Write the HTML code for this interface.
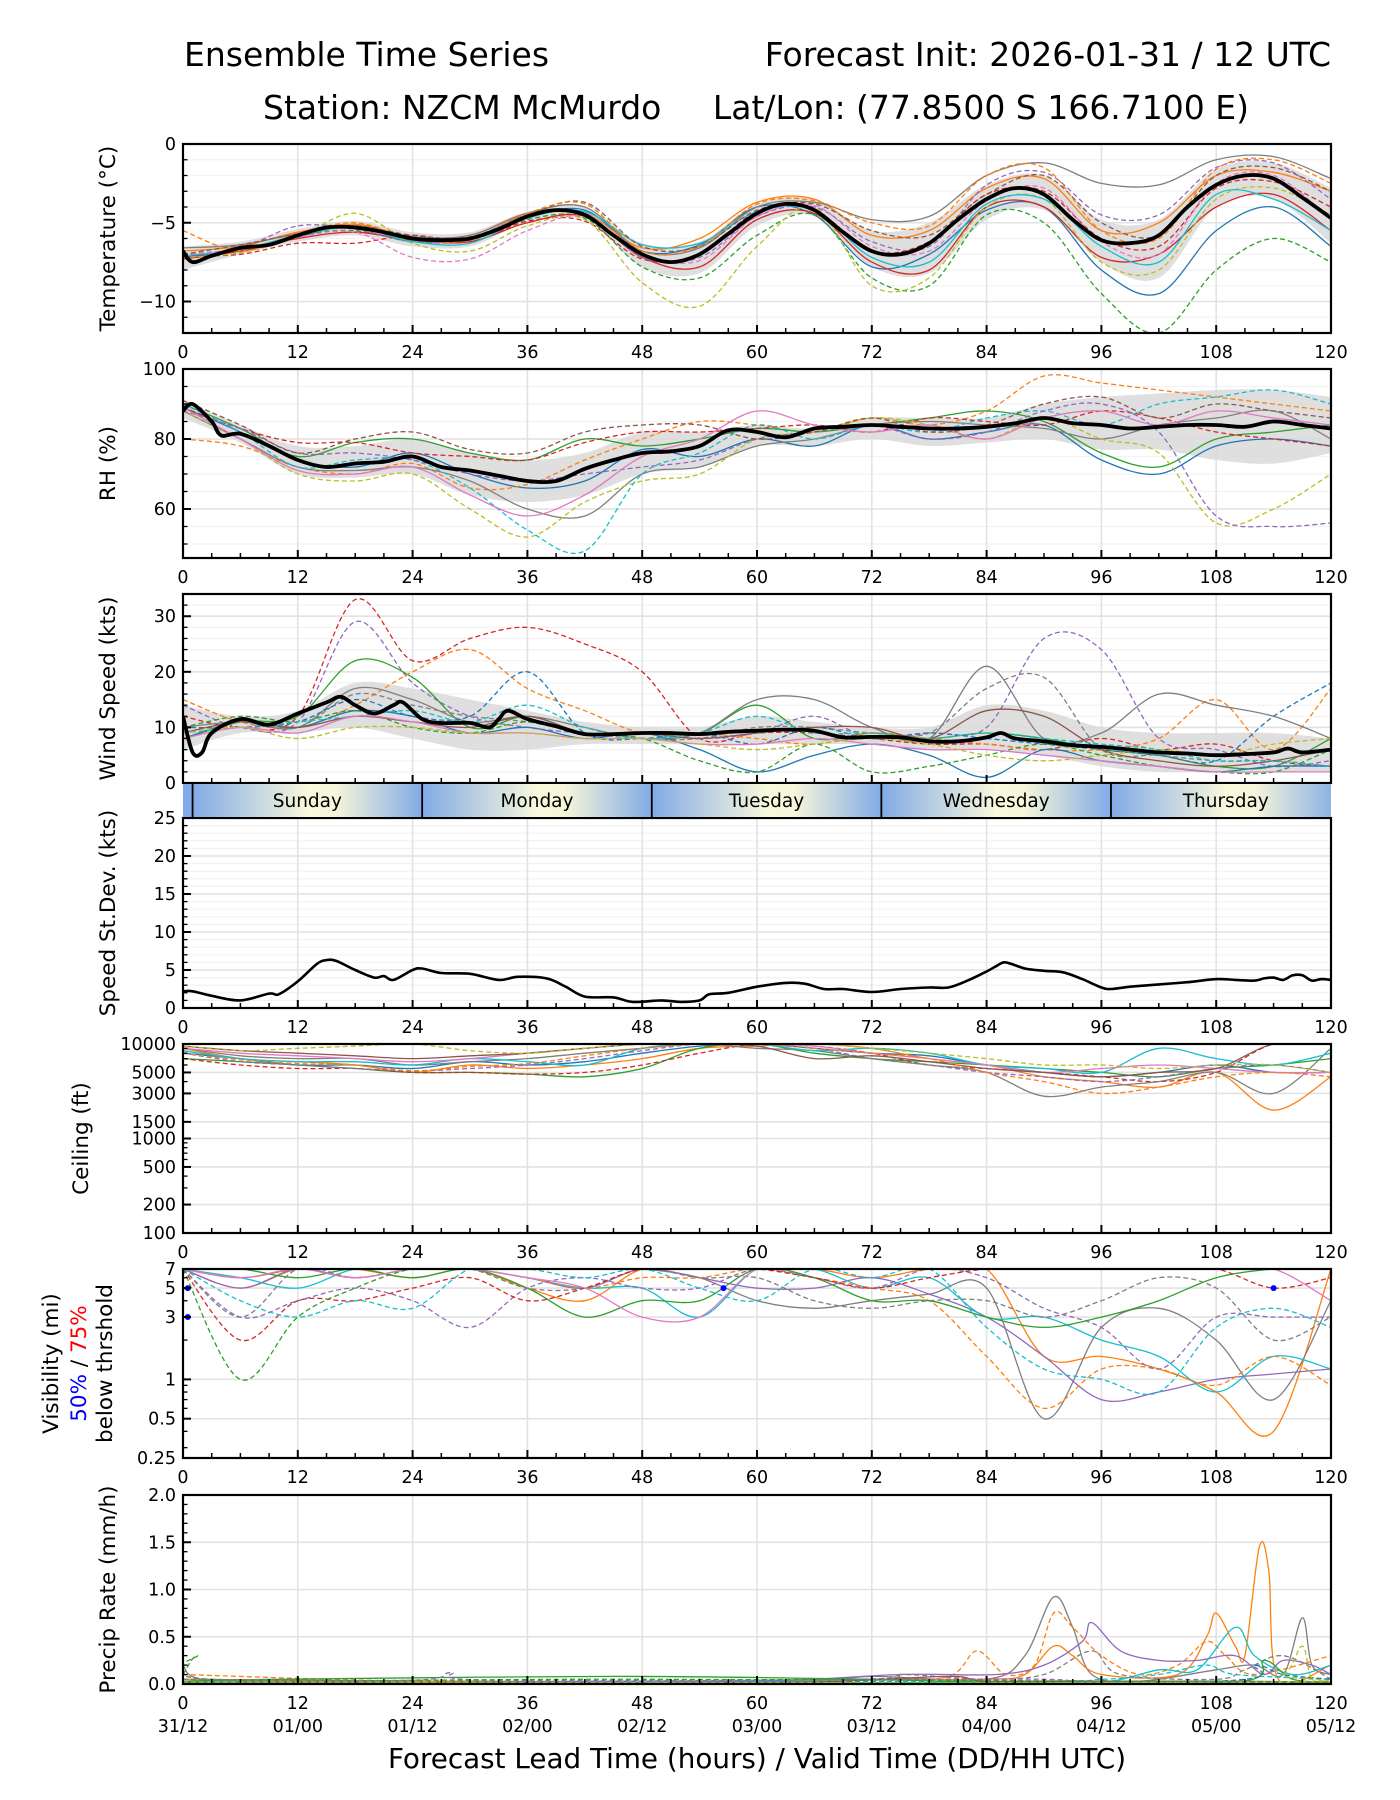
<!DOCTYPE html>
<html><head><meta charset="utf-8"><style>
html,body{margin:0;padding:0;background:#fff;}
svg{display:block;font-family:"DejaVu Sans","Liberation Sans",sans-serif;}
</style></head><body>
<svg id="chart" width="1400" height="1800" viewBox="0 0 1400 1800" xmlns="http://www.w3.org/2000/svg">
<defs>
<linearGradient id="dayGrad" x1="0" x2="1" y1="0" y2="0">
<stop offset="0" stop-color="#82aae6"/><stop offset="0.5" stop-color="#f8f8dc"/><stop offset="0.62" stop-color="#f6f6da"/><stop offset="1" stop-color="#82aae6"/>
</linearGradient>
</defs>
<text x="184" y="66" font-size="33">Ensemble Time Series</text>
<text x="1331" y="66" font-size="33" text-anchor="end">Forecast Init: 2026-01-31 / 12 UTC</text>
<text x="263" y="119" font-size="33">Station: NZCM McMurdo</text>
<text x="1249" y="119" font-size="33" text-anchor="end">Lat/Lon: (77.8500 S 166.7100 E)</text>
<text x="757" y="1768" font-size="27.8" text-anchor="middle">Forecast Lead Time (hours) / Valid Time (DD/HH UTC)</text>
</svg>
<script>
// ---------- shared data ----------
const H6 = [0,6,12,18,24,30,36,42,48,54,60,66,72,78,84,90,96,102,108,114,120];
const X_TICKS = [0,12,24,36,48,60,72,84,96,108,120];
const DATE_LABELS = ["31/12","01/00","01/12","02/00","02/12","03/00","03/12","04/00","04/12","05/00","05/12"];
const DAY_NAMES = ["Sunday","Monday","Tuesday","Wednesday","Thursday"];
const DAY_STARTS = [1,25,49,73,97];

// Temperature
const T_MEAN_H = [0,1,3,6,9,12,15,18,21,24,27,30,33,36,39,42,45,48,51,54,57,60,63,66,69,72,75,78,81,84,87,90,93,96,99,102,105,108,111,114,117,120];
const T_MEAN = [-6.8,-7.5,-7.1,-6.6,-6.4,-5.8,-5.3,-5.3,-5.6,-6.0,-6.1,-6.0,-5.4,-4.6,-4.2,-4.5,-5.8,-7.0,-7.5,-7.0,-5.7,-4.4,-3.8,-4.2,-5.6,-6.8,-7.0,-6.3,-4.8,-3.5,-2.8,-3.2,-4.8,-6.1,-6.3,-5.8,-4.0,-2.6,-2.0,-2.2,-3.4,-4.7];
const T_LOW = [-8.0,-7.0,-6.2,-5.8,-6.5,-6.5,-5.0,-4.8,-7.8,-8.2,-5.2,-4.6,-7.8,-8.2,-4.8,-4.2,-7.5,-8.5,-4.0,-3.5,-6.3];
const T_HIGH = [-6.5,-6.2,-5.4,-4.9,-5.6,-5.6,-4.3,-4.0,-6.3,-6.2,-3.8,-3.5,-5.5,-5.0,-2.6,-2.0,-4.8,-4.8,-1.6,-1.2,-2.8];
const T_M1 = [-7.2,-6.7,-5.9,-5.2,-6.1,-6.0,-4.7,-4.2,-6.8,-6.4,-4.0,-4.5,-7.8,-7.0,-4.2,-4.0,-8.0,-9.5,-5.5,-4.0,-6.5];
const T_M2 = [-6.8,-6.5,-5.6,-5.1,-5.9,-5.8,-4.4,-4.4,-6.6,-6.0,-3.7,-3.5,-5.8,-5.5,-2.8,-2.2,-5.5,-5.0,-2.0,-1.8,-3.0];
const T_M3 = [-7.0,-6.8,-5.8,-5.5,-6.2,-6.1,-4.8,-4.7,-7.8,-8.5,-5.8,-4.5,-8.5,-9.0,-4.5,-5.0,-9.5,-12.0,-8.0,-6.0,-7.5];
const T_M4 = [-7.3,-6.8,-6.0,-5.6,-6.1,-6.2,-5.0,-4.6,-7.2,-7.8,-4.8,-4.4,-7.5,-8.0,-4.0,-4.0,-7.2,-7.0,-4.0,-3.2,-5.5];
const T_M5 = [-7.1,-7.0,-6.3,-6.3,-5.8,-6.2,-4.9,-4.9,-7.3,-7.0,-4.3,-4.2,-6.8,-6.2,-3.2,-3.0,-6.0,-6.5,-2.8,-2.4,-4.0];
const T_M6 = [-6.6,-6.4,-5.7,-5.2,-5.9,-5.8,-4.4,-4.0,-6.8,-6.6,-4.0,-3.7,-4.8,-4.6,-2.0,-1.2,-2.5,-2.6,-1.0,-0.8,-2.2];
const T_M7 = [-7.2,-6.9,-5.9,-4.4,-6.3,-6.8,-5.2,-4.8,-8.8,-10.3,-6.5,-4.0,-9.0,-8.5,-4.0,-3.5,-7.5,-8.0,-3.5,-2.8,-4.5];
const T_M8 = [-7.0,-6.6,-5.2,-5.4,-6.2,-6.0,-4.5,-4.4,-7.2,-7.2,-4.6,-4.0,-6.2,-6.5,-2.6,-1.8,-4.5,-4.5,-1.5,-1.2,-3.5];
const T_M9 = [-7.1,-6.7,-5.8,-5.3,-6.2,-6.3,-4.7,-4.3,-6.4,-6.3,-4.3,-4.2,-7.2,-7.5,-3.8,-3.5,-6.5,-7.5,-3.2,-3.5,-5.5];
const T_M10 = [-7.0,-6.7,-5.9,-5.6,-7.2,-7.3,-5.5,-4.6,-7.0,-7.4,-4.6,-3.9,-6.5,-6.8,-3.6,-2.8,-6.2,-7.0,-2.5,-2.0,-4.8];
const T_M11 = [-7.0,-6.4,-5.7,-5.2,-5.8,-5.9,-4.5,-3.7,-6.5,-6.5,-4.2,-3.8,-5.5,-5.8,-3.2,-2.0,-5.0,-5.8,-2.0,-1.5,-3.0];
const T_M12 = [-5.5,-6.8,-5.7,-5.0,-6.0,-6.1,-4.4,-3.8,-6.8,-6.5,-3.8,-3.6,-5.0,-5.2,-2.0,-1.5,-5.5,-6.0,-1.6,-1.0,-2.5];

// Relative humidity
const RH_MEAN_H = [0,1,3,4,6,9,12,15,18,21,24,27,30,33,36,39,42,45,48,51,54,57,60,63,66,69,72,75,78,81,84,87,90,93,96,99,102,105,108,111,114,117,120];
const RH_MEAN = [88,90,85,81,81.5,78,74,72,73,73.5,75,72,71,69.5,68,68,71.5,74,76,76.5,78,82.5,82,80.5,83,83.5,84,83.5,83,83,83.5,84.5,86,84.5,84,83,83.5,84,84,83.5,85,84,83];
const RH_LOW = [86,79,70,69,70,64,62,64,70,72,78,78,80,78,79,80,77,77,74,73,76];
const RH_HIGH = [91,84,78,78,80,76,74,76,82,82,84,83,86,86,86,90,92,93,94,94,92];
const RH_M1 = [89,82,74,72,76,70,66,68,77,75,80,78,84,80,82,84,74,70,78,80,78];
const RH_M2 = [80,78,72,70,73,66,67,74,80,85,84,82,86,84,88,98,96,94,92,90,88];
const RH_M3 = [90,83,75,79,80,76,74,80,78,80,83,82,84,86,88,85,76,72,80,82,84];
const RH_M4 = [89,83,79,79,76,75,74,79,82,82,83,84,82,86,85,84,88,86,82,80,78];
const RH_M5 = [88,80,72,71,72,68,60,58,70,72,78,80,84,85,84,83,80,84,86,88,80];
const RH_M6 = [88,80,70,68,70,60,52,62,68,70,80,82,86,84,80,86,80,76,56,60,70];
const RH_M7 = [90,82,72,74,74,66,54,48,70,76,84,80,84,82,86,88,84,90,92,94,90];
const RH_M8 = [88,83,76,76,74,70,68,70,72,74,80,82,84,80,82,88,90,82,58,55,56];
const RH_M9 = [89,80,71,70,72,64,58,64,75,80,88,84,82,84,80,86,88,84,88,86,84];
const RH_M10 = [91,84,76,80,82,77,76,82,84,84,80,82,86,82,84,90,92,86,90,88,86];

// Wind speed
const W_MEAN_H = [0,1,2,3,6,9,12,15,16.5,18,20,22,23,25,27,30,32,33,34,36,39,42,45,48,51,54,57,60,63,66,69,72,75,78,81,84,85.5,87,90,93,96,99,102,105,108,111,114,115.5,117,120];
const W_MEAN = [12,5.5,5.5,9,11.5,10.5,12.5,14.5,15.5,14,12.5,14,14.5,11.5,10.8,10.8,10,11.5,13,11.5,10.2,8.8,8.8,9,9,8.8,9.2,9.4,9.6,9.4,8.2,8.3,8.2,7.5,7.5,8.2,9,8,7.5,6.8,6.5,6,5.5,5.3,5,5.2,5.5,6.2,5.5,6];
const W_LOW = [6,9,9,10,8,6,6,7,7,7,7,7,7,6,6,5,3,2,2,2,2];
const W_HIGH = [14,12,13,18,17,15,13,11,10,10,12,11,10,10,14,13,10,9,9,9,8];
const W_M1 = [12,10,12,33,22,26,28,25,20,8,9,9,8,7,7,6,8,6,7,4,3];
const W_M2 = [14,10,11,29,18,12,10,9,9,8,9,12,8,9,10,26,24,8,6,3,4];
const W_M3 = [8,11,12,22,19,10,12,9,9,9,14,8,9,8,9,8,6,5,3,3,8];
const W_M4 = [15,11,10,14,20,24,17,13,9,9,8,7,9,8,7,6,6,8,15,6,17];
const W_M5 = [10,11,10,17,15,11,12,10,8,9,15,15,10,8,21,8,9,16,14,12,8];
const W_M6 = [9,11,10,16,14,12,11,9,8,8,10,10,9,9,17,19,6,5,4,4,3];
const W_M7 = [10,10,11,15,12,12,20,9,8,9,7,10,8,9,8,7,6,5,4,12,18];
const W_M8 = [8,11,10,13,12,9,10,8,9,6,2,5,7,5,1,6,4,3,2,3,3];
const W_M9 = [10,12,11,13,10,9,11,9,8,4,2,7,2,3,5,7,5,3,2,2,6];
const W_M10 = [9,11,10,12,11,10,12,9,9,8,9,10,10,8,13,12,6,4,3,4,6];
const W_M11 = [9,10,11,12,13,11,14,10,8,9,12,9,9,8,9,8,7,6,4,4,3];
const W_M12 = [8,10,9,12,11,9,9,8,8,7,7,8,7,6,6,5,4,3,2,2,2];
const W_M13 = [9,10,8,10,10,9,9,8,8,7,6,7,8,7,5,4,5,6,5,7,8];

// Speed standard deviation
const SD_H = [0,1,3,6,9,10,12,14,15,16,18,20,21,22,24,25,27,30,33,35,38,40,42,45,47,50,52,54,55,57,60,63,65,67,69,72,75,78,80,82,84,85,86,88,90,92,94,96,97,99,102,105,108,110,112,113,114,115,116,117,118,119,120];
const SD_V = [2.2,2.2,1.6,1.0,1.9,1.8,3.5,5.8,6.3,6.2,5.0,4.0,4.2,3.7,5.0,5.2,4.6,4.5,3.7,4.1,3.9,2.8,1.5,1.4,0.8,1.0,0.8,1.0,1.8,2.0,2.8,3.3,3.2,2.5,2.5,2.1,2.5,2.7,2.7,3.6,4.8,5.5,6.0,5.2,4.9,4.7,3.8,2.7,2.5,2.8,3.1,3.4,3.8,3.7,3.6,3.9,4.0,3.7,4.3,4.3,3.6,3.8,3.7];

// Ceiling (ft)
const C_M1 = [8000,7000,6000,6000,5500,6500,6000,6500,8000,9500,10000,9000,8000,7500,6000,5000,4500,5000,6000,5000,5000];
const C_M2 = [9000,7000,6500,6000,5000,6000,5500,6000,7000,9000,9500,10000,9000,7000,6000,4500,4000,3500,5000,2000,4500];
const C_M3 = [7000,6500,6000,5500,5000,5000,4800,4500,5500,9000,10000,8000,7000,6500,6000,5500,5000,4500,5500,6000,7000];
const C_M4 = [7000,6000,5500,5500,5000,5000,4800,5000,6000,8000,10000,9500,8000,6000,5500,5000,4500,4000,5000,10000,10000];
const C_M5 = [8000,6500,6000,5500,5200,5500,6000,7000,8500,10000,10000,9000,7000,6000,5000,4500,4000,4500,5500,6000,5000];
const C_M6 = [9000,7500,7000,7000,6000,6500,7000,8000,9000,10000,9000,8500,7000,6000,5000,2800,3500,4000,5000,3000,9000];
const C_M7 = [8500,7000,6500,6500,6000,7000,6500,6000,9000,10000,10000,8500,9000,8000,6000,5500,5000,9000,7000,6000,8000];
const C_M8 = [9000,8000,7500,7000,6500,7000,8000,9000,10000,10000,10000,9500,8000,7000,6000,5000,5500,6000,5500,5000,5000];
const C_M9 = [9500,8500,8000,7500,7000,7500,8000,9000,10000,10000,9500,7000,7500,6500,5500,5000,4500,5000,5500,10000,10000];
const C_M10 = [9500,8500,9000,9500,10000,8500,8000,9000,10000,10000,10000,10000,9000,8000,7000,6000,6000,5500,6000,6000,5000];
const C_M11 = [8000,6800,6200,6000,5200,5800,6200,7500,9000,10000,10000,9000,8000,7000,5000,4000,3000,3500,4500,5000,4500];

// Visibility (mi)
const V_M1 = [7,5,7,7,6,7,5,4,7,7,7,7,6,7,7,1.5,1.5,1.2,0.8,0.4,7];
const V_M2 = [7,6,7,7,7,7,7,7,7,6,4,3.5,4,4.5,5,0.5,2.5,3.5,2,0.7,4];
const V_M3 = [7,5,7,6,7,7,6,5,7,6,5,5,6,4.5,3,1.5,0.7,0.8,1.0,1.1,1.2];
const V_M4 = [7,6,5,7,7,7,6,5,5,3,7,7,5,6,3,3,2,1.5,0.8,1.5,1.2];
const V_M5 = [7,6,7,7,7,7,6,5,6,6,7,6,5,4,1.5,0.6,1.2,1.2,0.9,1.5,0.9];
const V_M6 = [7,3,4,5,4,2.5,5,6,5,5,7,6,5,7,6,3.5,2.5,1.2,3,3,3];
const V_M7 = [7,7,6,7,6,7,5,3,4,4,7,6,4,4,3,2.5,3,4,6,7,7];
const V_M8 = [7,3,7,6,7,7,5,5,7,6,6,4,3.5,4,4,3,4,6,5,2,3];
const V_M9 = [7,2,4,4,5,6,4,5,7,7,7,6,5,6,7,7,7,7,7,5,6];
const V_M10 = [7,4,3,4,3.5,7,7,6,7,5,4,7,6,7,2.5,1.2,1.0,0.8,2.5,3.5,2.5];
const V_M11 = [7,6,7,6,7,7,6,5,3,3,7,7,7,7,7,7,7,7,7,7,4];
const V_M12 = [7,1.0,3,5,7,7,7,7,7,7,7,7,7,7,7,7,7,7,7,7,7];
const V_BLUE_PTS = [[0.5,5],[0.5,3],[56.5,5],[114,5]];

// Precip rate (mm/h) as [hour,value]
const P_GRAY_S = [[0,0.2],[2,0.05],[12,0.02],[30,0.03],[48,0.02],[66,0.03],[72,0.08],[84,0.05],[88,0.3],[91,0.92],[93,0.6],[95,0.1],[100,0.03],[108,0.15],[112,0.2],[115,0.1],[117,0.7],[118,0.2],[120,0.1]];
const P_ORANGE_S = [[0,0.05],[24,0.03],[48,0.02],[72,0.05],[84,0.05],[88,0.1],[91,0.4],[93,0.3],[96,0.1],[104,0.1],[107,0.5],[108,0.75],[110,0.4],[111,0.3],[112.5,1.45],[113.5,1.2],[114.5,0.05],[120,0.2]];
const P_ORANGE_D = [[0,0.1],[24,0.03],[48,0.03],[72,0.04],[80,0.08],[83,0.35],[86,0.1],[89,0.2],[91,0.75],[93,0.6],[96,0.3],[100,0.1],[104,0.2],[107,0.45],[109,0.3],[112,0.1],[120,0.3]];
const P_PURPLE_S = [[0,0.02],[30,0.02],[60,0.03],[75,0.1],[85,0.1],[90,0.2],[94,0.45],[95,0.65],[98,0.35],[102,0.25],[106,0.25],[110,0.3],[113,0.1],[115,0.25],[118,0.2],[120,0.1]];
const P_CYAN_S = [[0,0.03],[24,0.02],[48,0.02],[60,0.01],[84,0.02],[96,0.02],[102,0.15],[106,0.15],[110,0.6],[112,0.3],[116,0.1],[120,0.2]];
const P_CYAN_D = [[0,0.02],[84,0.03],[96,0.05],[102,0.1],[107,0.2],[110,0.1],[120,0.05]];
const P_GRAY_D = [[0,0.05],[20,0.02],[70,0.05],[75,0.1],[84,0.05],[90,0.1],[95,0.35],[98,0.1],[108,0.05],[111,0.15],[115,0.3],[120,0.05]];
const P_GREEN_S = [[0,0.03],[10,0.05],[45,0.08],[72,0.05],[84,0.02],[110,0.02],[113,0.25],[116,0.05],[120,0.02]];
const P_BROWN_S = [[0,0.02],[30,0.02],[48,0.01],[66,0.02],[80,0.08],[84,0.03],[96,0.03],[108,0.03],[120,0.02]];
const P_PURPLE_D = [[0,0.05],[24,0.04],[28,0.12],[32,0.04],[72,0.05],[90,0.05],[96,0.02],[120,0.02]];
const P_BLUE_D = [[0,0.02],[60,0.02],[108,0.03],[112,0.2],[115,0.1],[120,0.05]];
const P_OLIVE_D = [[0,0.02],[110,0.02],[115,0.1],[117,0.4],[118,0.05],[120,0.02]];
const P_GREEN_D = [[0,0.1],[1.5,0.3],[3,0.05],[48,0.05],[120,0.02]];

// ---------- drawing ----------
const C = {blue:'#1f77b4',orange:'#ff7f0e',green:'#2ca02c',red:'#d62728',purple:'#9467bd',brown:'#8c564b',pink:'#e377c2',gray:'#7f7f7f',olive:'#bcbd22',cyan:'#17becf'};
const NS='http://www.w3.org/2000/svg';
const svg=document.getElementById('chart');
const L=183, R=1331, W=R-L;
const xs=h=>L+h/120*W;
function add(parent,tag,attrs,text){const e=document.createElementNS(NS,tag);for(const k in attrs)e.setAttribute(k,attrs[k]);if(text!==undefined)e.textContent=text;parent.appendChild(e);return e;}
function smooth(pts){if(!pts.length)return'';let d='M'+pts[0][0].toFixed(1)+','+pts[0][1].toFixed(1);for(let i=0;i<pts.length-1;i++){const p0=pts[i-1]||pts[i],p1=pts[i],p2=pts[i+1],p3=pts[i+2]||p2;const c1x=p1[0]+(p2[0]-p0[0])/6,c1y=p1[1]+(p2[1]-p0[1])/6,c2x=p2[0]-(p3[0]-p1[0])/6,c2y=p2[1]-(p3[1]-p1[1])/6;d+='C'+c1x.toFixed(1)+','+c1y.toFixed(1)+' '+c2x.toFixed(1)+','+c2y.toFixed(1)+' '+p2[0].toFixed(1)+','+p2[1].toFixed(1);}return d;}
let clipN=0;
function panel(o){
  const g=add(svg,'g',{});
  
  
  const H=o.bot-o.top;
  const ys=o.log?(v=>o.bot-(Math.log(v)-Math.log(o.ymin))/(Math.log(o.ymax)-Math.log(o.ymin))*H):(v=>o.bot-(v-o.ymin)/(o.ymax-o.ymin)*H);
  const id='clip'+(clipN++);
  const cp=add(svg,'clipPath',{id});add(cp,'rect',{x:L,y:o.top,width:W,height:H});
  const grid=add(g,'g',{});
  
  
  (o.minor||[]).forEach(v=>{add(grid,'line',{x1:L,x2:R,y1:ys(v),y2:ys(v),stroke:'#f2f2f2','stroke-width':1.2});});
  o.major.forEach(v=>{add(grid,'line',{x1:L,x2:R,y1:ys(v),y2:ys(v),stroke:'#e2e2e2','stroke-width':1.6});});
  X_TICKS.forEach(h=>{add(grid,'line',{x1:xs(h),x2:xs(h),y1:o.top,y2:o.bot,stroke:'#e2e2e2','stroke-width':1.6});});
  const data=add(g,'g',{'clip-path':'url(#'+id+')'});
  
  
  if(o.band){const up=o.band.hours.map((h,i)=>[xs(h),ys(o.band.hi[i])]);const lo=o.band.hours.map((h,i)=>[xs(h),ys(o.band.lo[i])]).reverse();
    const b=add(data,'path',{d:smooth(up)+'L'+smooth(lo).slice(1)+'Z',fill:'#d9d9d9','fill-opacity':0.85,stroke:'none'});
    
    }
  (o.members||[]).forEach(m=>{const hrs=m.h||H6;const pts=m.pairs?m.pairs.map(p=>[xs(p[0]),ys(p[1])]):m.v.map((v,i)=>[xs(hrs[i]),ys(v)]);
    const p=add(data,'path',{d:smooth(pts),fill:'none',stroke:m.c,'stroke-width':1.3,'stroke-dasharray':m.dash?'5,3':'none'});
    
    });
  if(o.mean){const pts=o.mean.h.map((h,i)=>[xs(h),ys(o.mean.v[i])]);
    const p=add(data,'path',{d:smooth(pts),fill:'none',stroke:'#000','stroke-width':o.meanW||3.8,'stroke-linejoin':'round'});
    
    }
  (o.points||[]).forEach(pt=>{const c=add(data,'circle',{cx:xs(pt[0]),cy:ys(pt[1]),r:3,fill:'#0000ff'});
    
    });
  const ax=add(g,'g',{});
  
  
  for(let h=0;h<=120;h+=3){const big=h%12===0;add(ax,'line',{x1:xs(h),x2:xs(h),y1:o.bot,y2:o.bot-(big?8:5),stroke:'#000','stroke-width':big?2:1.5});}
  (o.minorT||o.minor||[]).forEach(v=>add(ax,'line',{x1:L,x2:L+4.5,y1:ys(v),y2:ys(v),stroke:'#000','stroke-width':1.3}));
  o.major.forEach((v,i)=>{add(ax,'line',{x1:L,x2:L+8,y1:ys(v),y2:ys(v),stroke:'#000','stroke-width':2});
    const t=add(ax,'text',{x:L-7,y:ys(v)+6,'font-size':17.5,'text-anchor':'end'},o.labels[i]);
    
    });
  const fr=add(ax,'rect',{x:L,y:o.top,width:W,height:H,fill:'none',stroke:'#000','stroke-width':2.2});
  
  
  if(o.xlabels){X_TICKS.forEach(h=>{const t=add(ax,'text',{x:xs(h),y:o.bot+25,'font-size':17.5,'text-anchor':'middle'},String(h));
    
    });}
  const cy=(o.top+o.bot)/2;
  o.ylab.forEach(l=>{const t=add(g,'text',{x:l.x,y:cy,'font-size':21.5,'text-anchor':'middle',transform:'rotate(-90 '+l.x+' '+cy+')'});
    
    
    l.parts.forEach(p=>{add(t,'tspan',{fill:p[1]||'#000'},p[0]);});});
  return ys;
}
function rng(a,b,s){const r=[];for(let v=a;v<=b+1e-9;v+=s)r.push(+v.toFixed(3));return r;}

panel({name:'temperature',top:144,bot:333,ymin:-12,ymax:0,major:[-10,-5,0],labels:['\u221210','\u22125','0'],minor:rng(-12,0,1),xlabels:true,
  ylab:[{x:115,parts:[['Temperature (°C)']]}],
  band:{hours:H6,lo:T_LOW,hi:T_HIGH},mean:{h:T_MEAN_H,v:T_MEAN},
  members:[{v:T_M1,c:C.blue},{v:T_M2,c:C.orange},{v:T_M3,c:C.green,dash:1},{v:T_M4,c:C.red},{v:T_M5,c:C.red,dash:1},{v:T_M6,c:C.gray},{v:T_M7,c:C.olive,dash:1},{v:T_M8,c:C.purple,dash:1},{v:T_M9,c:C.cyan},{v:T_M10,c:C.pink,dash:1},{v:T_M11,c:C.brown,dash:1},{v:T_M12,c:C.orange,dash:1}]});
panel({name:'rh',top:369,bot:558,ymin:46,ymax:100,major:[60,80,100],labels:['60','80','100'],minor:rng(50,100,5),xlabels:true,
  ylab:[{x:115,parts:[['RH (%)']]}],
  band:{hours:H6,lo:RH_LOW,hi:RH_HIGH},mean:{h:RH_MEAN_H,v:RH_MEAN},
  members:[{v:RH_M1,c:C.blue},{v:RH_M2,c:C.orange,dash:1},{v:RH_M3,c:C.green},{v:RH_M4,c:C.red,dash:1},{v:RH_M5,c:C.gray},{v:RH_M6,c:C.olive,dash:1},{v:RH_M7,c:C.cyan,dash:1},{v:RH_M8,c:C.purple,dash:1},{v:RH_M9,c:C.pink},{v:RH_M10,c:C.brown,dash:1}]});
panel({name:'wind',top:594,bot:783,ymin:0,ymax:34,major:[0,10,20,30],labels:['0','10','20','30'],minor:rng(0,34,2),xlabels:false,
  ylab:[{x:115,parts:[['Wind Speed (kts)']]}],
  band:{hours:H6,lo:W_LOW,hi:W_HIGH},mean:{h:W_MEAN_H,v:W_MEAN},
  members:[{v:W_M1,c:C.red,dash:1},{v:W_M2,c:C.purple,dash:1},{v:W_M3,c:C.green},{v:W_M4,c:C.orange,dash:1},{v:W_M5,c:C.gray},{v:W_M6,c:C.gray,dash:1},{v:W_M7,c:C.blue,dash:1},{v:W_M8,c:C.blue},{v:W_M9,c:C.green,dash:1},{v:W_M10,c:C.brown},{v:W_M11,c:C.cyan,dash:1},{v:W_M12,c:C.pink},{v:W_M13,c:C.olive,dash:1}]});
panel({name:'speed-stdev',top:818,bot:1008,ymin:0,ymax:25,major:[0,5,10,15,20,25],labels:['0','5','10','15','20','25'],minor:rng(0,25,1),xlabels:true,
  ylab:[{x:115,parts:[['Speed St.Dev. (kts)']]}],
  mean:{h:SD_H,v:SD_V},meanW:2.6});
panel({name:'ceiling',top:1044,bot:1233,ymin:100,ymax:10000,log:true,major:[100,200,500,1000,1500,3000,5000,10000],labels:['100','200','500','1000','1500','3000','5000','10000'],
  minorT:[300,400,600,700,800,900,2000,4000,6000,7000,8000,9000],minor:[],xlabels:true,
  ylab:[{x:88,parts:[['Ceiling (ft)']]}],
  members:[{v:C_M1,c:C.blue},{v:C_M2,c:C.orange},{v:C_M3,c:C.green},{v:C_M4,c:C.red,dash:1},{v:C_M5,c:C.purple,dash:1},{v:C_M6,c:C.gray},{v:C_M7,c:C.cyan},{v:C_M8,c:C.pink},{v:C_M9,c:C.brown},{v:C_M10,c:C.olive,dash:1},{v:C_M11,c:C.orange,dash:1}]});
panel({name:'visibility',top:1269,bot:1458,ymin:0.25,ymax:7,log:true,major:[0.25,0.5,1,3,5,7],labels:['0.25','0.5','1','3','5','7'],
  minorT:[0.3,0.4,0.6,0.7,0.8,0.9,2,4,6],minor:[],xlabels:true,points:V_BLUE_PTS,
  ylab:[{x:58,parts:[['Visibility (mi)']]},{x:86,parts:[['50%','#0000ff'],[' / '],['75%','#ff0000']]},{x:112,parts:[['below thrshold']]}],
  members:[{v:V_M1,c:C.orange},{v:V_M2,c:C.gray},{v:V_M3,c:C.purple},{v:V_M4,c:C.cyan},{v:V_M5,c:C.orange,dash:1},{v:V_M6,c:C.purple,dash:1},{v:V_M7,c:C.green},{v:V_M8,c:C.gray,dash:1},{v:V_M9,c:C.red,dash:1},{v:V_M10,c:C.cyan,dash:1},{v:V_M11,c:C.pink},{v:V_M12,c:C.green,dash:1}]});
panel({name:'precip',top:1495,bot:1684,ymin:0,ymax:2,major:[0,0.5,1,1.5,2],labels:['0.0','0.5','1.0','1.5','2.0'],minor:[],minorT:rng(0,2,0.1),xlabels:true,
  ylab:[{x:115,parts:[['Precip Rate (mm/h)']]}],
  members:[{pairs:P_GRAY_S,c:C.gray},{pairs:P_ORANGE_S,c:C.orange},{pairs:P_ORANGE_D,c:C.orange,dash:1},{pairs:P_PURPLE_S,c:C.purple},{pairs:P_CYAN_S,c:C.cyan},{pairs:P_CYAN_D,c:C.cyan,dash:1},{pairs:P_GRAY_D,c:C.gray,dash:1},{pairs:P_GREEN_S,c:C.green},{pairs:P_BROWN_S,c:C.brown},{pairs:P_PURPLE_D,c:C.purple,dash:1},{pairs:P_BLUE_D,c:C.blue,dash:1},{pairs:P_OLIVE_D,c:C.olive,dash:1},{pairs:P_GREEN_D,c:C.green,dash:1}]});

DATE_LABELS.forEach((d,i)=>{const t=add(svg,'text',{x:xs(X_TICKS[i]),y:1732,'font-size':17.5,'text-anchor':'middle'},d);
  
  });

// day bar
const bar=add(svg,'g',{});


const bTop=784,bH=33;
const bcp=add(bar,'clipPath',{id:'barclip'});
add(bcp,'rect',{x:L,y:bTop,width:W,height:bH});
const bg=add(bar,'g',{'clip-path':'url(#barclip)'});
add(bg,'rect',{x:L,y:bTop,width:W,height:bH,fill:'#82aae6'});
DAY_STARTS.forEach((s,i)=>{const seg=add(bg,'rect',{x:xs(s),y:bTop,width:xs(s+24)-xs(s),height:bH,fill:'url(#dayGrad)'});
  
  
  add(bg,'line',{x1:xs(s),x2:xs(s),y1:bTop,y2:bTop+bH,stroke:'#000','stroke-width':1.8});
  const t=add(bar,'text',{x:xs(s+12),y:bTop+23,'font-size':18.5,'text-anchor':'middle'},DAY_NAMES[i]);
  
  });
</script>
</body></html>
